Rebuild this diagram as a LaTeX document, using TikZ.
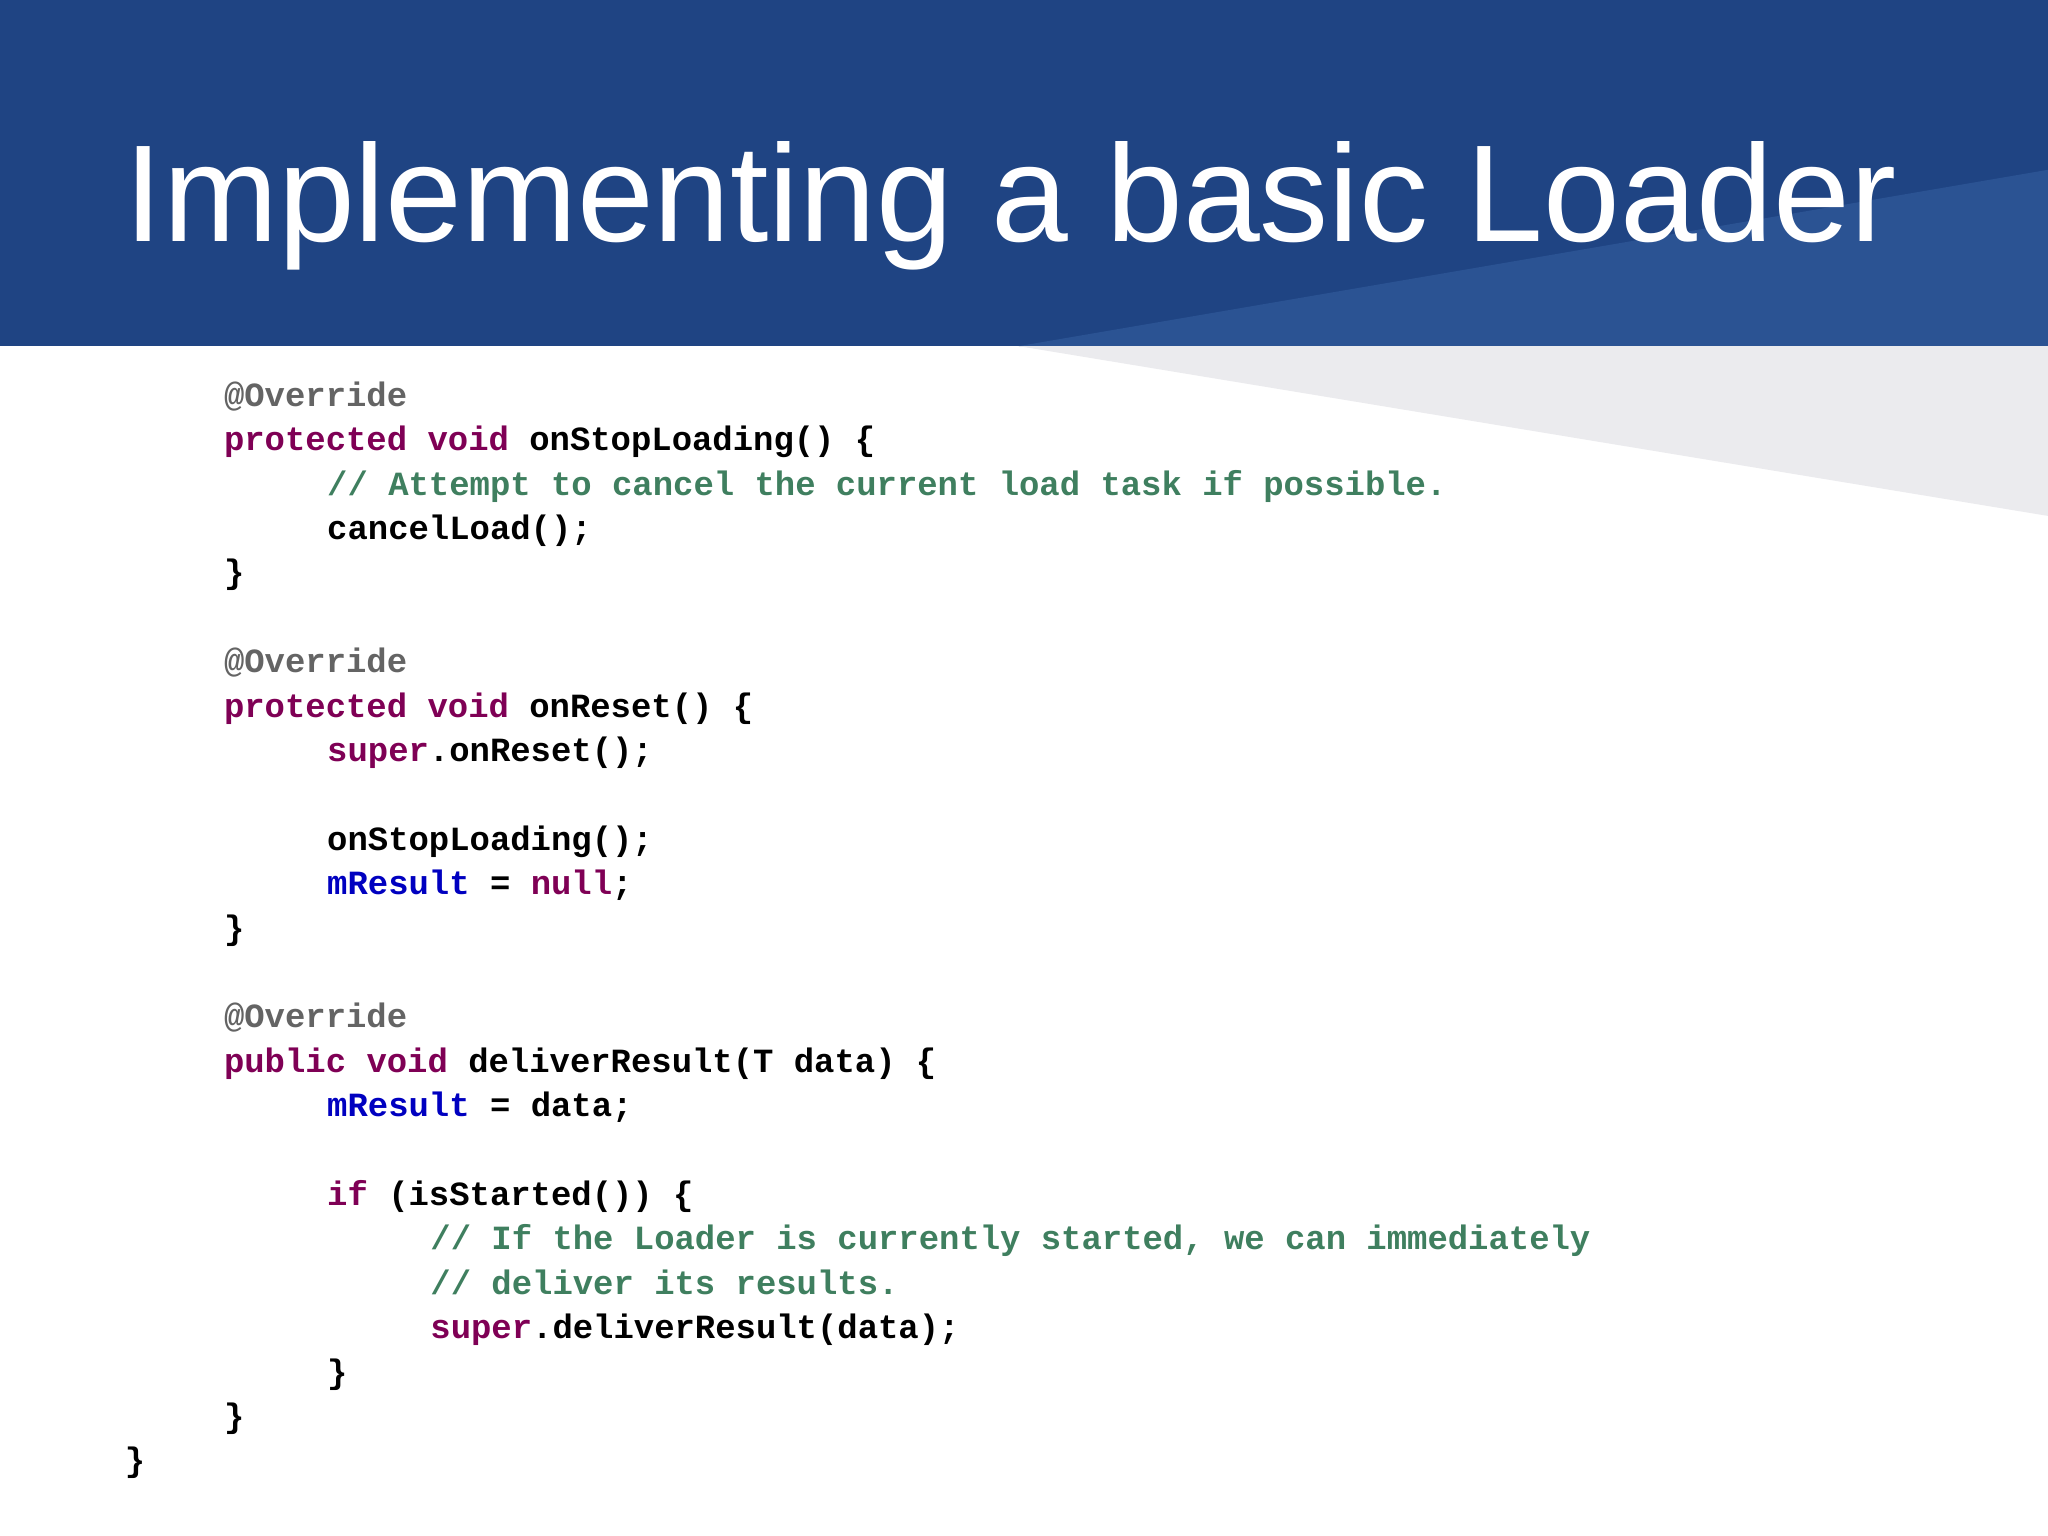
\documentclass[tikz,border=0pt]{standalone}
\usepackage{fontspec}
\setmainfont{Liberation Sans}
\setmonofont{Liberation Mono}
\definecolor{hdr}{HTML}{1F4483}
\definecolor{hdrl}{HTML}{2B5393}
\definecolor{gtri}{HTML}{EBEBEE}
\definecolor{kw}{HTML}{7F0055}
\definecolor{cm}{HTML}{3F7F5F}
\definecolor{an}{HTML}{646464}
\definecolor{fd}{HTML}{0000C0}
\newcommand{\K}[1]{\textcolor{kw}{#1}}
\newcommand{\C}[1]{\textcolor{cm}{#1}}
\newcommand{\A}[1]{\textcolor{an}{#1}}
\newcommand{\F}[1]{\textcolor{fd}{#1}}
\begin{document}
\begin{tikzpicture}[x=0.01306cm,y=-0.01306cm,
  code/.style={anchor=base west,inner sep=0,font=\fontsize{9.65}{11}\ttfamily\bfseries}]
\useasboundingbox (0,0) rectangle (1568,1176);
\fill[white] (0,0) rectangle (1568,1176);
\fill[hdr] (0,0) rectangle (1568,265);
\fill[hdrl] (780,265) -- (1568,130) -- (1568,265) -- cycle;
\fill[gtri] (780,265) -- (1568,265) -- (1568,395) -- cycle;
\node[anchor=base west,inner sep=0,text=white] (title) at (95,185) {\resizebox{17.72cm}{!}{\fontsize{40}{48}\selectfont Implementing a basic Loader}};
\node[code] (l1) at (171,311) {\A{@Override}};
\node[code] (l2) at (171,345) {\K{protected} \K{void} onStopLoading() \{};
\node[code] (l3) at (250,379) {\C{// Attempt to cancel the current load task if possible.}};
\node[code] (l4) at (250,413) {cancelLoad();};
\node[code] (l5) at (171,447) {\}};
\node[code] (l6) at (171,515) {\A{@Override}};
\node[code] (l7) at (171,549) {\K{protected} \K{void} onReset() \{};
\node[code] (l8) at (250,583) {\K{super}.onReset();};
\node[code] (l9) at (250,651) {onStopLoading();};
\node[code] (l10) at (250,685) {\F{mResult} = \K{null};};
\node[code] (l11) at (171,719) {\}};
\node[code] (l12) at (171,787) {\A{@Override}};
\node[code] (l13) at (171,821) {\K{public} \K{void} deliverResult(T data) \{};
\node[code] (l14) at (250,855) {\F{mResult} = data;};
\node[code] (l15) at (250,923) {\K{if} (isStarted()) \{};
\node[code] (l16) at (329,957) {\C{// If the Loader is currently started, we can immediately}};
\node[code] (l17) at (329,991) {\C{// deliver its results.}};
\node[code] (l18) at (329,1025) {\K{super}.deliverResult(data);};
\node[code] (l19) at (250,1059) {\}};
\node[code] (l20) at (171,1093) {\}};
\node[code] (l21) at (95,1127) {\}};
\end{tikzpicture}
\end{document}
